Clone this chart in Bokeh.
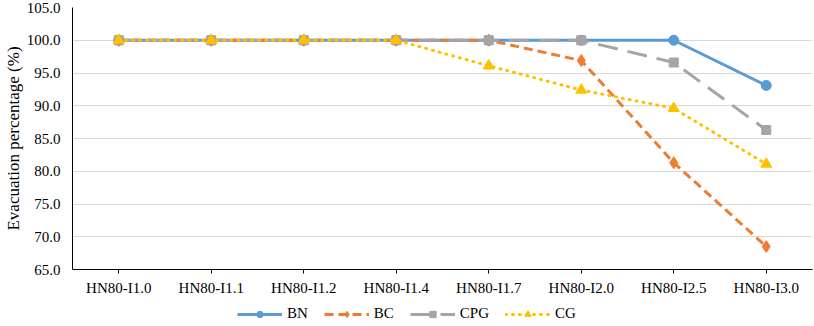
from bokeh.plotting import figure
from bokeh.layouts import column
from bokeh.models import FactorRange, FixedTicker, NumeralTickFormatter, Legend, LegendItem, Range1d
from bokeh.embed import file_html
from bokeh.resources import INLINE

categories = ["HN80-I1.0", "HN80-I1.1", "HN80-I1.2", "HN80-I1.4",
              "HN80-I1.7", "HN80-I2.0", "HN80-I2.5", "HN80-I3.0"]
bn = [100, 100, 100, 100, 100, 100, 100, 93.1]
bc = [100, 100, 100, 100, 100, 96.9, 81.3, 68.5]
cpg = [100, 100, 100, 100, 100, 100, 96.6, 86.3]
cg = [100, 100, 100, 100, 96.1, 92.4, 89.6, 81.1]
y_ticks = [65, 70, 75, 80, 85, 90, 95, 100, 105]

FONT = "Liberation Serif"

p = figure(width=814, height=300, x_range=FactorRange(factors=categories),
           y_range=Range1d(65, 105), output_backend="svg", toolbar_location=None,
           min_border_top=7, min_border_right=2, min_border_left=0, min_border_bottom=31)
p.outline_line_color = None
p.background_fill_color = "white"

p.xgrid.grid_line_color = None
p.ygrid.grid_line_color = "#d9d9d9"
p.ygrid.grid_line_width = 1

p.yaxis.ticker = FixedTicker(ticks=y_ticks)
p.yaxis.formatter = NumeralTickFormatter(format="0.0")
p.yaxis.major_tick_line_color = None
p.yaxis.major_tick_out = 0
p.yaxis.major_tick_in = 0
p.yaxis.minor_tick_line_color = None
p.yaxis.axis_line_color = "black"
p.yaxis.axis_label = "Evacuation percentage (%)"
p.yaxis.axis_label_text_font = FONT
p.yaxis.axis_label_text_font_style = "normal"
p.yaxis.axis_label_text_font_size = "17px"
p.yaxis.axis_label_text_color = "black"
p.yaxis.axis_label_standoff = 1
p.yaxis.major_label_text_font = FONT
p.yaxis.major_label_text_font_size = "15px"
p.yaxis.major_label_text_color = "black"
p.yaxis.major_label_standoff = 12

p.xaxis.axis_line_color = "black"
p.xaxis.major_tick_line_color = "black"
p.xaxis.major_tick_out = 4
p.xaxis.major_tick_in = 0
p.xaxis.major_label_text_font = FONT
p.xaxis.major_label_text_font_size = "15px"
p.xaxis.major_label_text_color = "black"
p.xaxis.major_label_standoff = 6

series = [
    ("BN", bn, "#5B9BD5", "solid", "circle", 10),
    ("BC", bc, "#ED7D31", "9 5", "diamond", 12),
    ("CPG", cpg, "#A5A5A5", "20 10", "square", 9),
    ("CG", cg, "#FFC000", "1 6", "triangle", 11),
]

# legend strip below the chart
p2 = figure(width=814, height=26, x_range=FactorRange(factors=categories),
            y_range=Range1d(0, 1), output_backend="svg", toolbar_location=None,
            x_axis_type=None, y_axis_type=None, min_border=0)
p2.outline_line_color = None
p2.xgrid.grid_line_color = None
p2.ygrid.grid_line_color = None

items = []
for name, vals, color, dash, marker, size in series:
    cap = "round" if dash == "1 6" else "butt"
    p.line(categories, vals, line_color=color, line_width=3, line_dash=dash, line_cap=cap)
    p.scatter(categories, vals, marker=marker, size=size, fill_color=color, line_color=color)
    # same series in the legend strip (outside its visible range, only the legend shows)
    r1 = p2.line(categories, vals, line_color=color, line_width=3, line_dash=dash, line_cap=cap)
    r2 = p2.scatter(categories, vals, marker=marker, size=size, fill_color=color, line_color=color)
    items.append(LegendItem(label=name, renderers=[r1, r2]))

legend = Legend(items=items, orientation="horizontal", location=(165, 4),
                label_text_font=FONT, label_text_font_size="15px",
                label_text_color="black", glyph_width=45, glyph_height=16,
                spacing=16, border_line_color=None, padding=0, margin=0,
                label_standoff=5, background_fill_alpha=0)
p2.add_layout(legend, "center")

layout = column(p, p2, spacing=0)
open("out.html", "w").write(file_html(layout, INLINE))
